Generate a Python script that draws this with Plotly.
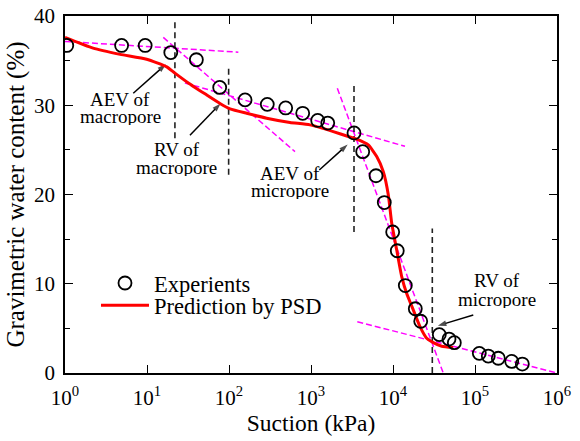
import math
import plotly.graph_objects as go

# ---- data ----
exp_suction = [1.05, 4.9, 9.5, 19.5, 40, 77, 157, 293, 491, 792, 1207, 1600, 3345, 4270,
               6205, 7830, 9910, 11270, 14130, 18700, 21780, 36700, 48200, 55950, 112800,
               145200, 192400, 280500, 377600]
exp_water = [36.7, 36.7, 36.7, 35.9, 35.1, 32.0, 30.6, 30.1, 29.7, 29.1, 28.3, 28.0, 26.9, 24.8,
             22.1, 19.1, 15.8, 13.7, 9.8, 7.2, 5.8, 4.3, 3.8, 3.4, 2.2, 1.9, 1.65, 1.3, 1.0]

psd_suction = [1, 2.2, 4.7, 9.9, 17.4, 21.9, 31.9, 53.5, 77.6, 103, 164, 288, 554, 972, 1870,
               2850, 3610, 5000, 6330, 7620, 8770, 9640, 11090, 12770, 14690, 17700, 21330,
               25760, 31000, 39260, 54330]
psd_water = [37.6, 36.4, 35.7, 35.15, 34.3, 33.6, 32.5, 31.15, 30.2, 29.6, 29.1, 28.55, 28.07,
             27.8, 27.05, 26.5, 26.2, 25.55, 24.25, 22.55, 19.95, 16.8, 13.8, 10.8, 8.9, 7.05,
             5.2, 3.9, 3.4, 3.0, 2.85]

# tangent (construction) lines: pairs of (suction, water)
tangent_suction = [[1, 130], [15.8, 638], [29, 14000], [2094, 41000], [3670, 1e6]]
tangent_water = [[37.15, 35.95], [37.6, 24.8], [32.5, 25.4], [31.9, 0.0], [5.75, 0.0]]

# characteristic points (vertical dashed markers)
char_suction = [21.9, 99, 3345, 30150]
char_low = [26.3, 22.2, 15.8, 0.0]
char_high = [39.5, 34.4, 32.2, 16.2]

# labels: (text lines, label suction, label water per line, arrow tail, arrow head)
label_lines = [["AEV of", "macropore"], ["RV of", "macropore"],
               ["AEV of", "micropore"], ["RV of", "micropore"]]
label_suction = [4.7, 23.0, 555, 188000]
label_water = [[30.75, 28.85], [25.05, 23.1], [22.45, 20.5], [10.4, 8.3]]
arrow_tail_suction = [6.8, 33.4, 1262, 95300]
arrow_tail_water = [31.35, 26.65, 22.75, 6.5]
arrow_head_suction = [17.0, 79.0, 2800, 35200]
arrow_head_water = [34.6, 30.2, 25.6, 5.3]

x_tick_vals = [1, 10, 100, 1000, 10000, 100000, 1000000]
x_tick_text = ["10<sup>0</sup>", "10<sup>1</sup>", "10<sup>2</sup>", "10<sup>3</sup>",
               "10<sup>4</sup>", "10<sup>5</sup>", "10<sup>6</sup>"]
y_tick_vals = [0, 10, 20, 30, 40]

FONT = "Liberation Serif, Times New Roman, serif"

fig = go.Figure()

for xs, ys in zip(tangent_suction, tangent_water):
    fig.add_trace(go.Scatter(x=xs, y=ys, mode="lines", showlegend=False, hoverinfo="skip",
                             line=dict(color="#ff00ff", width=1.5, dash="6px,3px")))

for xv, lo, hi in zip(char_suction, char_low, char_high):
    fig.add_trace(go.Scatter(x=[xv, xv], y=[lo, hi], mode="lines", showlegend=False,
                             hoverinfo="skip",
                             line=dict(color="#222222", width=1.6, dash="6px,4px")))

# arrows pointing from labels to characteristic points
for tx, ty, hx, hy in zip(arrow_tail_suction, arrow_tail_water,
                          arrow_head_suction, arrow_head_water):
    fig.add_trace(go.Scatter(x=[tx, hx], y=[ty, hy], mode="lines+markers", showlegend=False,
                             hoverinfo="skip", line=dict(color="black", width=1.5),
                             marker=dict(symbol=["circle", "arrow"], size=[0, 9],
                                         angleref="previous", color="black",
                                         line=dict(width=0))))

fig.add_trace(go.Scatter(x=psd_suction, y=psd_water, mode="lines", name="Prediction by PSD",
                         legend="legend2",
                         line=dict(color="#ff0000", width=3, shape="spline", smoothing=0.5)))

fig.add_trace(go.Scatter(x=exp_suction, y=exp_water, mode="markers", name="Experients",
                         legend="legend",
                         marker=dict(symbol="circle-open", size=13, color="black",
                                     line=dict(width=1.8, color="black"))))

annotations = []
for lines, lx, lys in zip(label_lines, label_suction, label_water):
    for t, ly in zip(lines, lys):
        annotations.append(dict(x=math.log10(lx), y=ly, xref="x", yref="y", text=t,
                                showarrow=False, xanchor="center", yanchor="middle",
                                height=18, valign="middle",
                                font=dict(family=FONT, size=19, color="black")))

legend_common = dict(font=dict(family=FONT, size=22.5, color="black"),
                     bgcolor="rgba(0,0,0,0)", borderwidth=0, xref="paper", yref="paper",
                     xanchor="left", yanchor="middle", itemwidth=48)

fig.update_layout(
    width=580, height=441,
    margin=dict(l=65, r=23, t=16, b=68, autoexpand=False),
    paper_bgcolor="white", plot_bgcolor="white",
    font=dict(family=FONT, size=21, color="black"),
    annotations=annotations,
    legend=dict(x=0.063, y=0.251, **legend_common),
    legend2=dict(x=0.063, y=0.189, **legend_common),
    xaxis=dict(type="log", range=[0, 6], tickvals=x_tick_vals, ticktext=x_tick_text,
               ticks="inside", ticklen=8, tickwidth=1.2, tickcolor="black",
               showline=True, linecolor="black", linewidth=1.5, mirror="ticks",
               showgrid=False, zeroline=False, ticklabelstandoff=5, tickangle=0,
               automargin=False,
               tickfont=dict(family=FONT, size=21),
               title=dict(text="Suction (kPa)", font=dict(family=FONT, size=23.5), standoff=4)),
    yaxis=dict(range=[0, 40], tickvals=y_tick_vals, ticks="inside", ticklen=8, tickwidth=1.2,
               tickcolor="black", showline=True, linecolor="black", linewidth=1.5,
               mirror="ticks", showgrid=False, zeroline=False, ticklabelstandoff=4,
               automargin=False,
               tickfont=dict(family=FONT, size=21),
               minor=dict(tickvals=[5, 15, 25, 35], ticks="inside", ticklen=5, tickwidth=1.2,
                          tickcolor="black", showgrid=False),
               title=dict(text="Gravimetric water content (%)",
                          font=dict(family=FONT, size=25), standoff=2)),
)

fig.write_html("out.html")
